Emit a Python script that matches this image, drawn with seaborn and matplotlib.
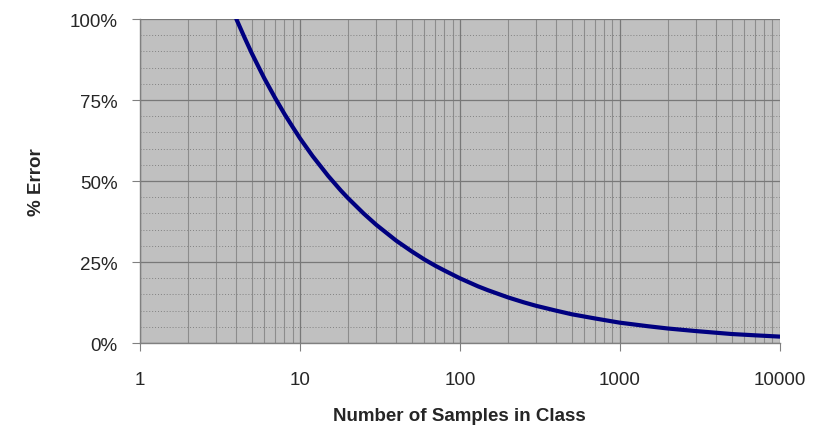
import numpy as np
import pandas as pd
import matplotlib
matplotlib.use('Agg')
import matplotlib.pyplot as plt
import matplotlib.ticker as mticker
import seaborn as sns

# values
samples = [4, 4.5, 5, 5.5, 6, 7, 8, 9, 10, 12, 15, 18, 20, 25, 30, 40, 50,
           60, 70, 80, 100, 130, 150, 200, 250, 300, 400, 500, 700, 1000,
           1500, 2000, 3000, 5000, 7000, 10000]
error_pct = [100, 94.3, 89.4, 85.3, 81.6, 75.6, 70.7, 66.7, 63.2, 57.7, 51.6,
             47.1, 44.7, 40.0, 36.5, 31.6, 28.3, 25.8, 23.9, 22.4, 20.0, 17.5,
             16.3, 14.1, 12.6, 11.5, 10.0, 8.9, 7.6, 6.3, 5.2, 4.5, 3.7, 2.8,
             2.4, 2.0]

df = pd.DataFrame({'samples': samples, 'error': error_pct})

sns.set_style('ticks', {'axes.facecolor': '#C0C0C0'})
plt.rcParams['font.family'] = ['Liberation Sans', 'DejaVu Sans']

fig = plt.figure(figsize=(8.19, 4.35), dpi=100)
ax = fig.add_axes([0.171, 0.209, 0.781, 0.745])

sns.lineplot(data=df, x='samples', y='error', color='#000080',
             linewidth=3.0, ax=ax, zorder=5)

ax.set_xscale('log')
ax.set_xlim(1, 10000)
ax.set_ylim(0, 100)

ax.xaxis.set_major_locator(mticker.LogLocator(base=10, numticks=10))
ax.xaxis.set_minor_locator(mticker.LogLocator(base=10, subs=np.arange(2, 10), numticks=20))
ax.xaxis.set_major_formatter(mticker.FuncFormatter(lambda v, p: f'{v:.0f}'))
ax.xaxis.set_minor_formatter(mticker.NullFormatter())

ax.yaxis.set_major_locator(mticker.MultipleLocator(25))
ax.yaxis.set_minor_locator(mticker.MultipleLocator(5))
ax.yaxis.set_major_formatter(mticker.FuncFormatter(lambda v, p: f'{v:.0f}%'))

ax.grid(which='major', axis='both', color='#787878', linewidth=0.9, linestyle='-')
ax.grid(which='minor', axis='x', color='#8c8c8c', linewidth=0.8, linestyle='-')
ax.grid(which='minor', axis='y', color='#828282', linewidth=0.7, linestyle=(0, (1, 2)))
ax.set_axisbelow(True)

for side in ['top', 'right']:
    ax.spines[side].set_visible(False)
for side in ['left', 'bottom']:
    ax.spines[side].set_color('#808080')
    ax.spines[side].set_linewidth(1.0)

ax.tick_params(which='major', length=6, color='#808080', labelsize=13.5, pad=10)
ax.tick_params(which='minor', length=0)
ax.tick_params(axis='x', which='major', pad=14)

ax.set_xlabel('Number of Samples in Class', fontsize=13.5, fontweight='bold', labelpad=14)
ax.set_ylabel('% Error', fontsize=13.5, fontweight='bold', labelpad=18)

plt.savefig('out.png', dpi=100)
